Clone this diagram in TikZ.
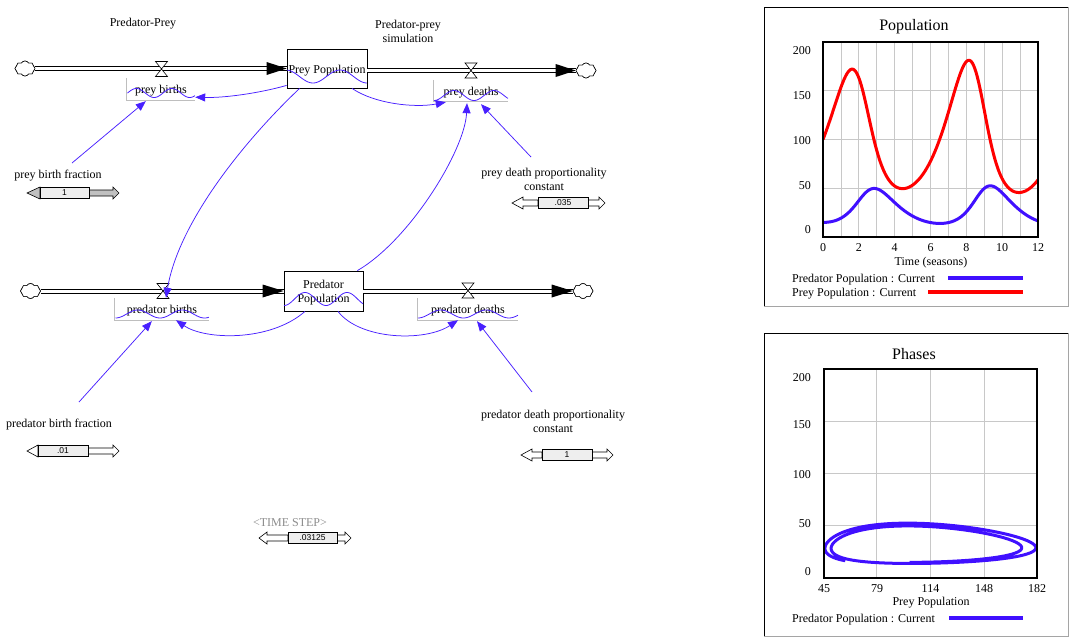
\documentclass[tikz,border=0pt]{standalone}
\usepackage{fontspec}
\setmainfont{Liberation Serif}
\setsansfont{Liberation Sans}
\usetikzlibrary{arrows.meta,shapes.symbols}
\definecolor{vblue}{RGB}{72,32,255}
\definecolor{pblue}{RGB}{64,16,255}
\definecolor{gridgray}{RGB}{200,200,200}
\definecolor{framegray}{RGB}{165,165,165}
\definecolor{rategray}{RGB}{190,190,190}
\definecolor{sliderdark}{RGB}{192,192,192}
\definecolor{boxgray}{RGB}{238,238,238}
\definecolor{tsgray}{RGB}{140,140,140}
\newcommand\sliderfill{white}
\newcommand\vsimslider[9]{%
  \draw[line width=0.6pt, fill=\sliderfill] (#2,#8) -- (#3,#8-6) -- (#3,#8-3) -- (#4,#8-3) -- (#4,#8+3) -- (#3,#8+3) -- (#3,#8+6) -- cycle;
  \draw[line width=0.6pt, fill=\sliderfill] (#7,#8) -- (#6,#8-6) -- (#6,#8-3) -- (#5,#8-3) -- (#5,#8+3) -- (#6,#8+3) -- (#6,#8+6) -- cycle;
  \node[draw, line width=0.6pt, fill=boxgray, inner sep=0pt, minimum width={#5-#4}, minimum height=10.5pt, font=\sffamily\fontsize{8.5}{9}\selectfont] (#1) at ({(#4+#5)/2},#8) {#9};
}
\newcommand\vwave[6]{\draw[wave] plot[domain=0:1,samples=70,smooth] ({#1+\x*(#2-#1)},{#3+#4*sin(\x*360*#5+#6)});}
\begin{document}
\begin{tikzpicture}[x=1pt,y=-1pt,
  lbl/.style={font=\fontsize{12}{14}\selectfont, inner sep=0pt, align=center, yshift=-2pt},
  stock/.style={draw, line width=0.8pt, fill=white, inner sep=0pt},
  rate/.style={inner sep=0pt},
  ratebox/.style={draw=rategray, line width=0.7pt},
  pipe/.style={draw=black, double=white, double distance=3pt, line width=1pt},
  conn/.style={draw=vblue, line width=0.75pt, -{Triangle[length=10pt,width=8pt]}},
  wave/.style={draw=vblue, line width=0.8pt},
  cloudy/.style={cloud, cloud puffs=8, cloud puff arc=120, aspect=1.3, draw, line width=0.6pt, fill=white, minimum width=20pt, minimum height=15pt, inner sep=0pt},
  gridln/.style={draw=gridgray, line width=0.8pt},
  vvalve/.pic={\draw[fill=white, line width=0.6pt] (-6,-7.5) -- (6,-7.5) -- (-6,7.5) -- (6,7.5) -- cycle;}
]
\useasboundingbox (0,0) rectangle (1072,640);

% ---------------- titles
\node[lbl] (title1) at (143,22) {Predator-Prey};
\node[lbl] (title2) at (408,29) {Predator-prey\\simulation};

% ---------------- prey chain
\node[stock, minimum width=80pt, minimum height=39pt] (preypop) at (327,68.5) {};
\node[cloudy] (cloud1) at (25,68.5) {};
\node[cloudy] (cloud2) at (586,70.5) {};
\draw[pipe] (cloud1.east) -- (preypop.west);
\fill ([xshift=-20pt,yshift=6.5pt]preypop.west) -- (preypop.west) -- ([xshift=-20pt,yshift=-6.5pt]preypop.west) -- cycle;
\draw[pipe] (preypop.east |- cloud2.west) -- (cloud2.west);
\fill ([xshift=-20pt,yshift=6.5pt]cloud2.west) -- (cloud2.west) -- ([xshift=-20pt,yshift=-6.5pt]cloud2.west) -- cycle;
\node[cloudy] at (cloud1) {};
\node[cloudy] at (cloud2) {};
\pic at (161.5,69) {vvalve};
\pic at (471,70.5) {vvalve};
\node[lbl] (preypoptxt) at (preypop) {Prey Population};
\vwave{287}{367}{76.5}{6.5}{1.48}{-83}

\node[rate, minimum width=68pt, minimum height=22pt] (preybirths) at (161,89) {};
\draw[ratebox] (preybirths.north west) |- (preybirths.south east);
\node[lbl] (preybirthstxt) at (preybirths) {prey births};
\vwave{127.5}{195}{93}{4.5}{1.9}{180}
\node[rate, minimum width=74pt, minimum height=21pt] (preydeaths) at (471,90.5) {};
\draw[ratebox] (preydeaths.north west) |- (preydeaths.south east);
\node[lbl] (preydeathstxt) at (preydeaths) {prey deaths};
\vwave{434}{508}{95.5}{5}{1.85}{90}

% ---------------- predator chain
\node[stock, minimum width=79pt, minimum height=40pt] (predpop) at (323.5,291) {};
\node[cloudy] (cloud3) at (30.5,291) {};
\node[cloudy] (cloud4) at (583,291) {};
\draw[pipe] (cloud3.east) -- (predpop.west);
\fill ([xshift=-21pt,yshift=6.5pt]predpop.west) -- (predpop.west) -- ([xshift=-21pt,yshift=-6.5pt]predpop.west) -- cycle;
\draw[pipe] (predpop.east) -- (cloud4.west);
\fill ([xshift=-21pt,yshift=6.5pt]cloud4.west) -- (cloud4.west) -- ([xshift=-21pt,yshift=-6.5pt]cloud4.west) -- cycle;
\node[cloudy] at (cloud3) {};
\node[cloudy] at (cloud4) {};
\pic at (163,291) {vvalve};
\pic at (468,290.5) {vvalve};
\node[lbl] (predpoptxt) at (predpop) {Predator\\Population};
\vwave{284}{363}{299}{6.5}{1.88}{90}

\node[rate, minimum width=94pt, minimum height=22pt] (predbirths) at (162,309) {};
\draw[ratebox] (predbirths.north west) |- (predbirths.south east);
\node[lbl] (predbirthstxt) at (predbirths) {predator births};
\vwave{115.5}{209}{314}{4}{2.1}{90}
\node[rate, minimum width=100pt, minimum height=22pt] (preddeaths) at (468,309) {};
\draw[ratebox] (preddeaths.north west) |- (preddeaths.south east);
\node[lbl] (preddeathstxt) at (preddeaths) {predator deaths};
\vwave{418}{518}{314}{4}{2.2}{90}

% ---------------- constants
\node[lbl] (pbf) at (58,174) {prey birth fraction};
\node[lbl] (pdpc) at (544,177) {prey death proportionality\\constant};
\node[lbl] (prbf) at (59,423) {predator birth fraction};
\node[lbl] (prdpc) at (553,419.5) {predator death proportionality\\constant};
\node[lbl, text=tsgray] (tstep) at (290,520.5) {<TIME STEP>};

\renewcommand\sliderfill{sliderdark}
\vsimslider{s1}{27}{40}{40}{89}{113}{119}{193}{1}
\renewcommand\sliderfill{white}
\vsimslider{s2}{512}{523}{538}{588}{599}{605}{203}{.035}
\vsimslider{s3}{27}{38}{38}{88}{113}{119}{451}{.01}
\vsimslider{s4}{521}{532}{542}{592}{607}{613}{455}{1}
\vsimslider{s5}{259}{267}{288}{337}{345}{351}{538}{.03125}

% ---------------- connectors
\coordinate (pbftop) at (72,163);
\coordinate (pdpctop) at (531,157);
\coordinate (prbftop) at (79,402);
\coordinate (prdpctop) at (532,392);
\draw[conn] ([yshift=3pt]preypop.south west) .. controls (260,93) and (225,98) .. ([yshift=3pt]preybirths.south east);
\draw[conn] ([xshift=25pt]preypop.south) .. controls (375,104) and (415,108) .. ([xshift=12pt,yshift=-1pt]preydeaths.south west);
\draw[conn] (pdpctop) -- ([xshift=10pt,yshift=-3pt]preydeaths.south);
\draw[conn] ([xshift=-6pt]predpop.north east) .. controls (410,240) and (465,150) .. ([xshift=-4pt,yshift=-2pt]preydeaths.south);
\draw[conn] ([xshift=13pt]preypop.south west) .. controls (240,145) and (178,225) .. ([xshift=4pt]predbirths.north);
\draw[conn] (pbftop) -- ([xshift=19pt,yshift=-1pt]preybirths.south west);
\draw[conn] (prbftop) -- ([xshift=37pt,yshift=-1pt]predbirths.south west);
\draw[conn] ([xshift=-18.5pt]predpop.south) .. controls (270,342) and (205,340) .. ([xshift=14pt]predbirths.south);
\draw[conn] ([xshift=14.5pt]predpop.south) .. controls (360,340) and (425,342) .. ([xshift=-10pt]preddeaths.south);
\draw[conn] (prdpctop) -- ([xshift=9pt,yshift=-1pt]preddeaths.south);

% ---------------- simulation (Euler, dt = 0.03125)
\def\vprey{100}\def\vpred{15}
\xdef\preypath{(0,100)}\xdef\predpath{(0,15)}\xdef\phasepath{(100,15)}
\foreach \i in {1,...,384}{%
  \pgfmathsetmacro\dprey{\vprey-0.035*\vprey*\vpred}%
  \pgfmathsetmacro\dpred{0.01*\vprey*\vpred-\vpred}%
  \pgfmathsetmacro\nprey{\vprey+0.03125*\dprey}%
  \pgfmathsetmacro\npred{\vpred+0.03125*\dpred}%
  \pgfmathsetmacro\simt{\i*0.03125}%
  \xdef\vprey{\nprey}\xdef\vpred{\npred}%
  \xdef\preypath{\preypath -- (\simt,\vprey)}%
  \xdef\predpath{\predpath -- (\simt,\vpred)}%
  \xdef\phasepath{\phasepath -- (\vprey,\vpred)}%
}

% ---------------- panel 1: Population
\draw[line width=0.5pt] (764,306) -- (764,7) -- (1068,7);
\draw[framegray, line width=0.8pt] (1068,7) -- (1068,306) -- (764,306);
\node[lbl, font=\fontsize{16}{18}\selectfont] (gt1) at (914,25) {Population};
\begin{scope}[shift={(823,237)},x=17.917pt,y=0.975pt]
  \foreach \t in {1,...,11} \draw[gridln] (\t,0) -- (\t,200);
  \foreach \v in {50,100,150} \draw[gridln] (0,\v) -- (12,\v);
  \begin{scope}
    \clip (0,0) rectangle (12,200);
    \edef\tmp{\noexpand\draw[red, line width=3pt, line join=round] \preypath;}\tmp
    \edef\tmp{\noexpand\draw[pblue, line width=3pt, line join=round] \predpath;}\tmp
  \end{scope}
  \draw[line width=2pt] (0,0) rectangle (12,200);
\end{scope}
\foreach \v/\yy in {200/49,150/94,100/139,50/184,0/228}
  \node[lbl, anchor=east] (ya\v) at (811,\yy) {\v};
\foreach \t in {0,2,4,6,8,10,12}
  \node[lbl] (xa\t) at ({823+\t*17.917},246) {\t};
\node[lbl] (xt1) at (931,261) {Time (seasons)};
\node[lbl, anchor=west] (lg1) at (792,278) {Predator Population : Current};
\node[lbl, anchor=west] (lg2) at (792,292) {Prey Population : Current};
\coordinate (lg1a) at (948,278); \coordinate (lg1b) at (1023,278);
\coordinate (lg2a) at (928,292); \coordinate (lg2b) at (1023,292);
\draw[pblue, line width=4pt] (lg1a) -- (lg1b);
\draw[red, line width=4pt] (lg2a) -- (lg2b);

% ---------------- panel 2: Phases
\draw[line width=0.5pt] (764,636) -- (764,333) -- (1068,333);
\draw[framegray, line width=0.8pt] (1068,333) -- (1068,636) -- (764,636);
\node[lbl, font=\fontsize{16}{18}\selectfont] (gt2) at (914,352) {Phases};
\begin{scope}[shift={(754.04,578)},x=1.5547pt,y=1.045pt]
  \foreach \p in {79,113.5,148} \draw[gridln] (\p,0) -- (\p,200);
  \foreach \v in {50,100,150} \draw[gridln] (45,\v) -- (182,\v);
  \begin{scope}
    \clip (45,0) rectangle (182,200);
    \edef\tmp{\noexpand\draw[pblue, line width=3pt, line join=round] \phasepath;}\tmp
  \end{scope}
  \draw[line width=2pt] (45,0) rectangle (182,200);
\end{scope}
\foreach \v/\yy in {200/376,150/423,100/473,50/522,0/570}
  \node[lbl, anchor=east] (yb\v) at (811,\yy) {\v};
\foreach \p/\xx in {45/824,79/877,114/930.5,148/984,182/1037}
  \node[lbl] (xb\p) at (\xx,587) {\p};
\node[lbl] (xt2) at (931,601) {Prey Population};
\node[lbl, anchor=west] (lg3) at (792,618) {Predator Population : Current};
\coordinate (lg3a) at (949,618); \coordinate (lg3b) at (1023,618);
\draw[pblue, line width=4pt] (lg3a) -- (lg3b);
\end{tikzpicture}
\end{document}
